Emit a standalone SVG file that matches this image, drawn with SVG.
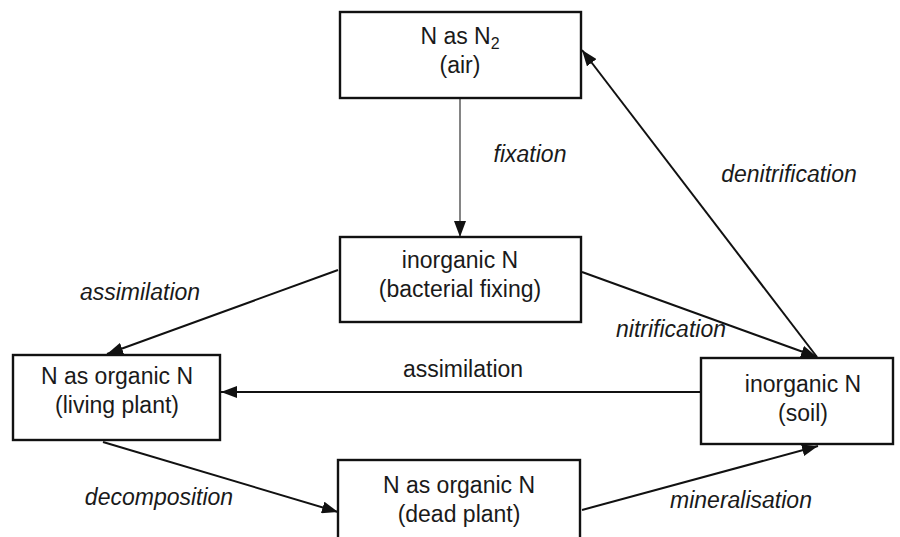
<svg xmlns="http://www.w3.org/2000/svg" width="900" height="537" viewBox="0 0 900 537">
<style>
.box{fill:#fff;stroke:#111;stroke-width:2.4}
.t{font-family:"Liberation Sans",Arial,sans-serif;font-size:23px;fill:#1a1a1a;text-anchor:middle}
.lbl{font-family:"Liberation Sans",Arial,sans-serif;font-size:23px;fill:#1a1a1a;text-anchor:middle;font-style:italic}
.c{stroke:#111;stroke-width:2;fill:none;marker-end:url(#ah)}
.thin{stroke:#333;stroke-width:1.2;fill:none;marker-end:url(#ah)}
</style>
<defs>
<marker id="ah" viewBox="0 0 16 12" refX="16" refY="6" markerWidth="16" markerHeight="12" markerUnits="userSpaceOnUse" orient="auto">
<path d="M0,0 L16,6 L0,12 z" fill="#111"/>
</marker>
</defs>
<rect width="900" height="537" fill="#fff"/>
<g id="connectors">
<line class="thin" x1="460" y1="98" x2="460" y2="237"/>
<line class="c" x1="338" y1="270" x2="107" y2="354"/>
<line class="c" x1="582" y1="272" x2="817" y2="357"/>
<line class="c" x1="817" y1="357" x2="582" y2="50"/>
<line class="c" x1="701" y1="392" x2="221" y2="392"/>
<line class="c" x1="103" y1="442" x2="338" y2="512"/>
<line class="c" x1="582" y1="510" x2="818" y2="446"/>
<text class="lbl" x="530" y="162">fixation</text>
<text class="lbl" x="789" y="182">denitrification</text>
<text class="lbl" x="140" y="300">assimilation</text>
<text class="lbl" x="671" y="337">nitrification</text>
<text class="t" x="463" y="377">assimilation</text>
<text class="lbl" x="159" y="505">decomposition</text>
<text class="lbl" x="741" y="508">mineralisation</text>
</g>
<g id="air">
<rect class="box" x="340" y="12" width="241" height="86"/>
<text class="t" x="460" y="44">N as N<tspan font-size="16" dy="5">2</tspan></text>
<text class="t" x="460" y="73">(air)</text>
</g>
<g id="bacterial">
<rect class="box" x="340" y="237" width="241" height="85"/>
<text class="t" x="460" y="268">inorganic N</text>
<text class="t" x="460" y="297">(bacterial fixing)</text>
</g>
<g id="living">
<rect class="box" x="13" y="355" width="207" height="85"/>
<text class="t" x="117" y="384">N as organic N</text>
<text class="t" x="117" y="413">(living plant)</text>
</g>
<g id="soil">
<rect class="box" x="701" y="358" width="192" height="86"/>
<text class="t" x="803" y="392">inorganic N</text>
<text class="t" x="803" y="421">(soil)</text>
</g>
<g id="dead">
<rect class="box" x="338" y="460" width="242" height="90"/>
<text class="t" x="459" y="493">N as organic N</text>
<text class="t" x="459" y="522">(dead plant)</text>
</g>
</svg>
